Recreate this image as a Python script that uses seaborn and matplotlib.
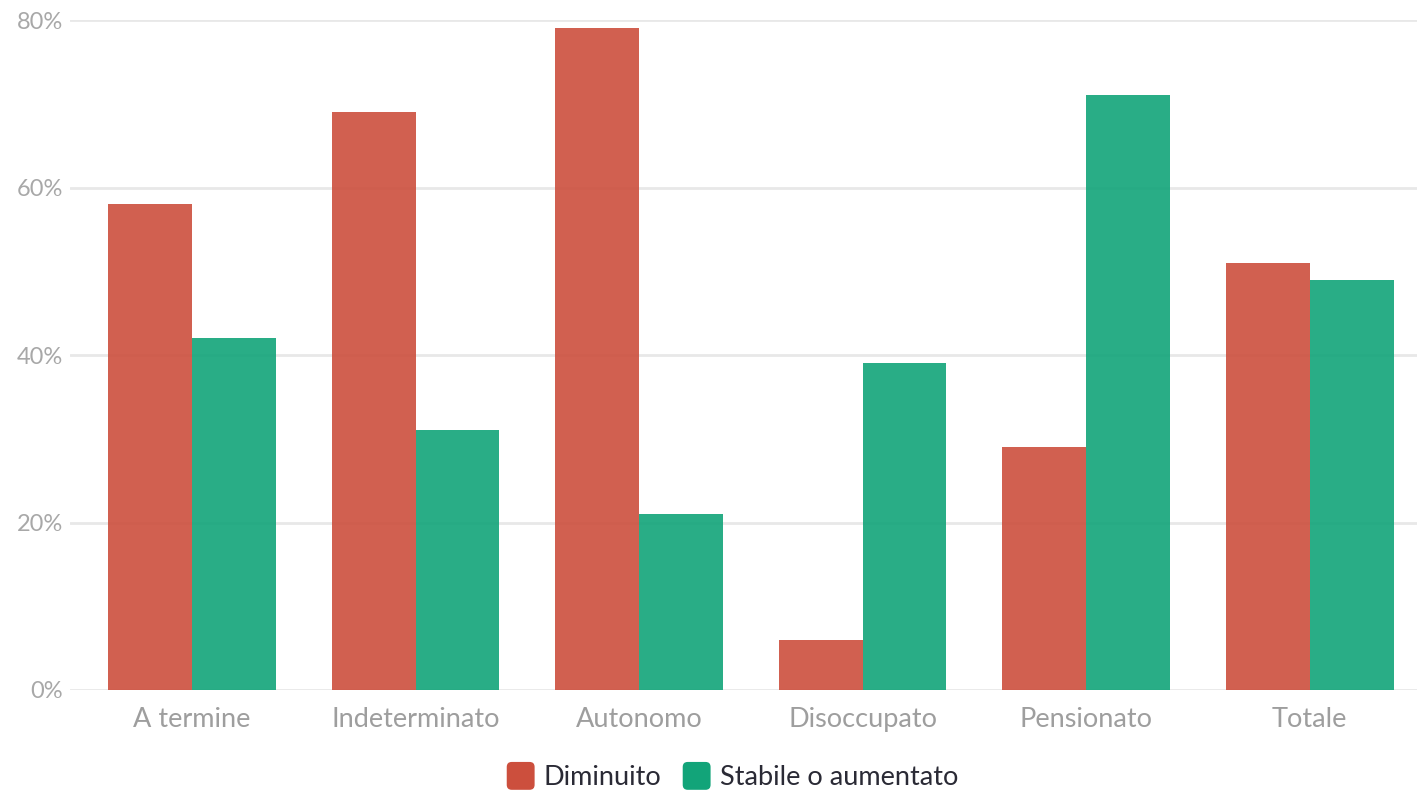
import matplotlib
matplotlib.use("Agg")
import matplotlib.pyplot as plt
import seaborn as sns
import pandas as pd
from matplotlib.patches import Patch, FancyBboxPatch
from matplotlib.legend_handler import HandlerPatch
from matplotlib.ticker import FuncFormatter

categories = ["A termine", "Indeterminato", "Autonomo", "Disoccupato", "Pensionato", "Totale"]
diminuito = [58, 69, 79, 6, 29, 51]
stabile = [42, 31, 21, 39, 71, 49]
series_names = ["Diminuito", "Stabile o aumentato"]
y_ticks = [0, 20, 40, 60, 80]

colors = {"Diminuito": "#CC4F3D", "Stabile o aumentato": "#12A479"}

df = pd.DataFrame({
    "categoria": categories * 2,
    "serie": [series_names[0]] * len(categories) + [series_names[1]] * len(categories),
    "valore": diminuito + stabile,
})

sns.set_theme(style="white")
plt.rcParams["font.family"] = ["Lato", "DejaVu Sans"]

fig = plt.figure(figsize=(14.17, 7.92), dpi=100)
ax = fig.add_axes([0.0494, 0.1288, 0.9506, 0.8459])

sns.barplot(data=df, x="categoria", y="valore", hue="serie", order=categories,
            hue_order=series_names, palette=colors, width=0.75, alpha=0.9,
            saturation=1, linewidth=0, ax=ax, legend=False)

ax.set_ylim(0, 80)
ax.set_xlim(-0.546, 5.48)
ax.set_yticks(y_ticks)
ax.yaxis.set_major_formatter(FuncFormatter(lambda v, p: f"{v:.0f}%"))
ax.grid(axis="y", color="#E8E8E8", linewidth=2, zorder=0)
ax.set_axisbelow(True)
for s in ax.spines.values():
    s.set_visible(False)
ax.set_xlabel("")
ax.set_ylabel("")
ax.tick_params(axis="y", length=0, pad=5, labelsize=17, labelcolor="#A8A8A8")
ax.tick_params(axis="x", length=7, width=1.2, color="#E4E4E4", pad=5,
               labelsize=19.5, labelcolor="#9E9E9E")


class RoundedHandler(HandlerPatch):
    def create_artists(self, legend, orig_handle, xdescent, ydescent, width,
                       height, fontsize, trans):
        size = min(width, height) * 1.15
        x0 = -xdescent + (width - size) / 2
        y0 = -ydescent + (height - size) / 2
        p = FancyBboxPatch((x0, y0), size, size,
                           boxstyle=f"round,pad=0,rounding_size={size * 0.18}",
                           facecolor=orig_handle.get_facecolor(), edgecolor="none",
                           transform=trans)
        return [p]


handles = [Patch(facecolor=colors[n], edgecolor="none", label=n) for n in series_names]
fig.legend(handles=handles, loc="center", bbox_to_anchor=(0.517, 0.019),
           ncol=2, frameon=False, fontsize=19.5, handlelength=1.0, handleheight=1.0,
           handletextpad=0.35, columnspacing=0.8, labelcolor="#2A2A35",
           handler_map={Patch: RoundedHandler()})

fig.savefig("out.png", dpi=100)
